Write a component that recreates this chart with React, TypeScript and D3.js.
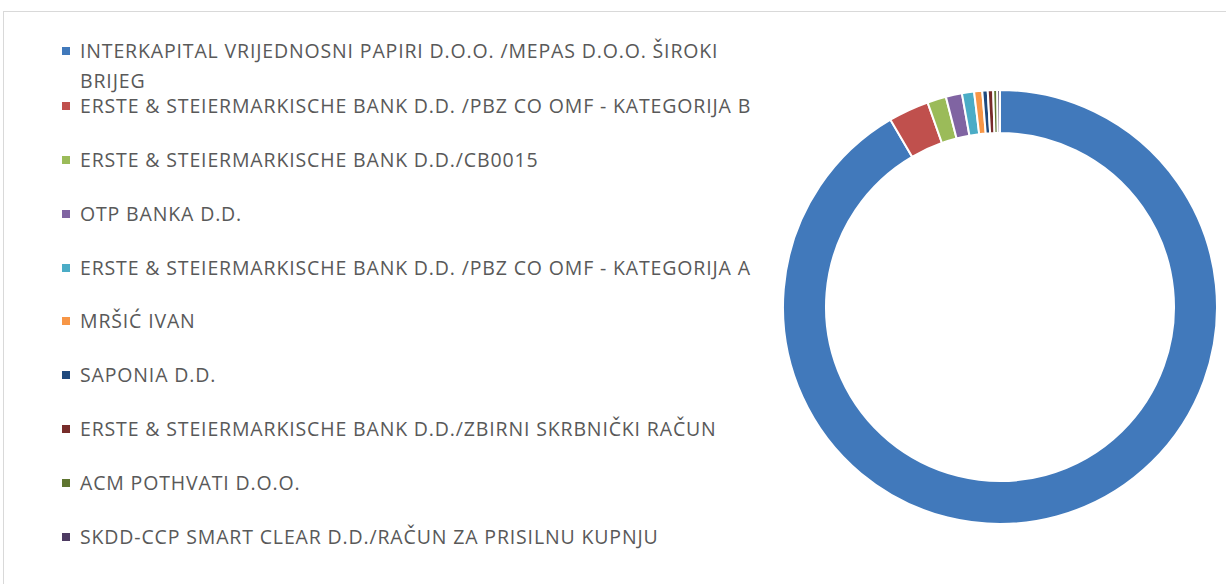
import React from "react";
import * as d3 from "d3";

const categories: string[] = [
  "INTERKAPITAL VRIJEDNOSNI PAPIRI D.O.O. /MEPAS D.O.O. ŠIROKI BRIJEG",
  "ERSTE & STEIERMARKISCHE BANK D.D. /PBZ CO OMF - KATEGORIJA B",
  "ERSTE & STEIERMARKISCHE BANK D.D./CB0015",
  "OTP BANKA D.D.",
  "ERSTE & STEIERMARKISCHE BANK D.D. /PBZ CO OMF - KATEGORIJA A",
  "MRŠIĆ IVAN",
  "SAPONIA D.D.",
  "ERSTE & STEIERMARKISCHE BANK D.D./ZBIRNI SKRBNIČKI RAČUN",
  "ACM POTHVATI D.O.O.",
  "SKDD-CCP SMART CLEAR D.D./RAČUN ZA PRISILNU KUPNJU",
];
const legendLines: string[][] = [
  ["INTERKAPITAL VRIJEDNOSNI PAPIRI D.O.O. /MEPAS D.O.O. ŠIROKI", "BRIJEG"],
  ["ERSTE & STEIERMARKISCHE BANK D.D. /PBZ CO OMF - KATEGORIJA B"],
  ["ERSTE & STEIERMARKISCHE BANK D.D./CB0015"],
  ["OTP BANKA D.D."],
  ["ERSTE & STEIERMARKISCHE BANK D.D. /PBZ CO OMF - KATEGORIJA A"],
  ["MRŠIĆ IVAN"],
  ["SAPONIA D.D."],
  ["ERSTE & STEIERMARKISCHE BANK D.D./ZBIRNI SKRBNIČKI RAČUN"],
  ["ACM POTHVATI D.O.O."],
  ["SKDD-CCP SMART CLEAR D.D./RAČUN ZA PRISILNU KUPNJU"],
];
const values: number[] = [91.3, 3.0, 1.4, 1.2, 0.9, 0.6, 0.4, 0.4, 0.3, 0.2];
const colors: string[] = [
  "#4179BB", "#C0504D", "#9BBB59", "#8064A2", "#4BACC6",
  "#F79646", "#1F497D", "#772C2A", "#5F7530", "#4D3B62",
];

export default function App() {
  const W = 1226, H = 584;
  const cx = 1000, cy = 307, rOuter = 217, rInner = 174;
  const pie = d3.pie<number>().sort(null).value((d) => d);
  const arcs = pie(values);
  const arcGen = d3.arc<d3.PieArcDatum<number>>().innerRadius(rInner).outerRadius(rOuter);

  const rowY = [51, 106, 160, 214, 268, 321, 375, 429, 483, 537];
  return (
    <svg width={W} height={H} style={{ position: "absolute", left: 0, top: 0 }}
      fontFamily="'Open Sans', sans-serif">
      <rect x={0} y={0} width={W} height={H} fill="#fff" />
      <rect x={3.5} y={11.5} width={W + 10} height={H + 10} fill="none" stroke="#d9d9d9" strokeWidth={1} />
      <g transform={`translate(${cx},${cy})`}>
        {arcs.map((a, i) => (
          <path key={i} d={arcGen(a) || ""} fill={colors[i]} stroke="#fff" strokeWidth={2} />
        ))}
      </g>
      {categories.map((c, i) => (
        <g key={c}>
          <rect x={62} y={rowY[i] - 4} width={8} height={8} fill={colors[i]} />
          {legendLines[i].map((ln, j) => (
            <text key={j} x={80} y={rowY[i] + j * 30} dy="0.35em" fontSize={19.5}
              letterSpacing={0.85} fill="#595959">
              {ln}
            </text>
          ))}
        </g>
      ))}
    </svg>
  );
}
